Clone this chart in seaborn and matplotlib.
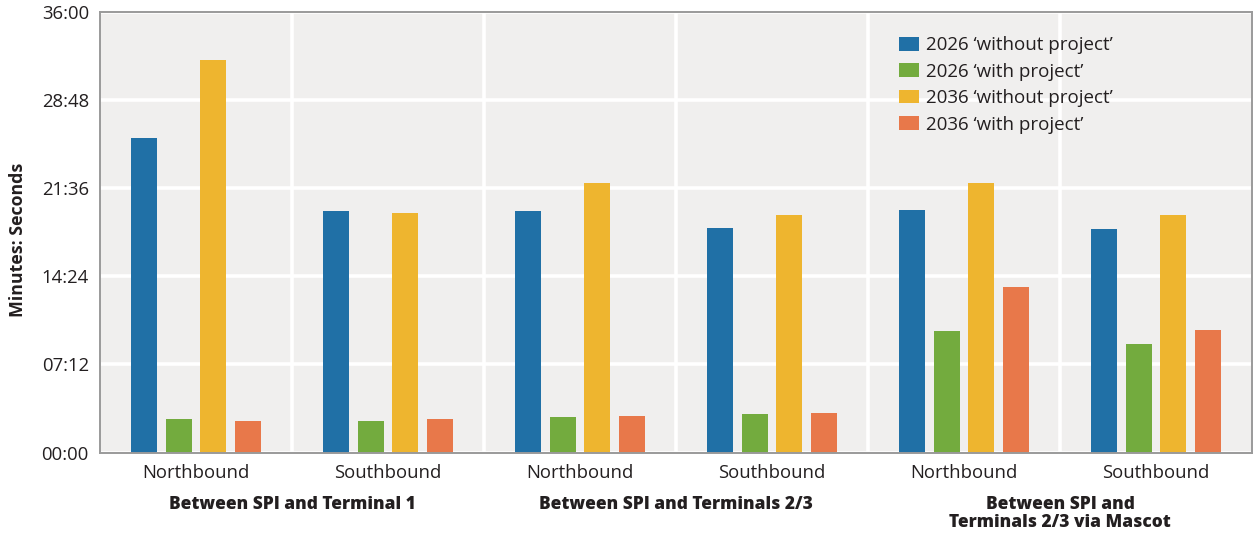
import matplotlib
matplotlib.use("Agg")
import matplotlib.pyplot as plt
from matplotlib.ticker import FixedLocator, FuncFormatter
import numpy as np
import pandas as pd
import seaborn as sns

# Journey times in minutes for each route / direction
routes = ["Between SPI and Terminal 1",
          "Between SPI and Terminals 2/3",
          "Between SPI and\nTerminals 2/3 via Mascot"]
directions = ["Northbound", "Southbound"]
series = ["2026 \u2018without project\u2019", "2026 \u2018with project\u2019",
          "2036 \u2018without project\u2019", "2036 \u2018with project\u2019"]

without_2026 = [25.72, 19.75, 19.75, 18.34, 19.80, 18.30]
with_2026 = [2.73, 2.57, 2.92, 3.14, 9.95, 8.89]
without_2036 = [32.07, 19.58, 22.00, 19.42, 22.05, 19.45]
with_2036 = [2.59, 2.75, 3.00, 3.19, 13.50, 10.03]

colors = ["#2070a6", "#73ab3e", "#eeb52f", "#e8784a"]

# Long-form table: one row per bar
cat_keys = [f"{r}|{d}" for r in routes for d in directions]
rows = []
for name, vals in zip(series, [without_2026, with_2026, without_2036, with_2036]):
    for key, v in zip(cat_keys, vals):
        rows.append({"category": key, "series": name, "minutes": v})
df = pd.DataFrame(rows)

sns.set_theme(style="white")
plt.rcParams["font.family"] = ["Open Sans", "DejaVu Sans"]

fig = plt.figure(figsize=(12.57, 5.35), dpi=100)
ax = fig.add_axes([0.0796, 0.1542, 0.9164, 0.8234])
ax.set_facecolor("#f0efee")

sns.barplot(data=df, x="category", y="minutes", hue="series", order=cat_keys,
            hue_order=series, palette=colors, saturation=1, width=0.72,
            gap=0.24, ax=ax, legend=True, linewidth=0, edgecolor="none")

# Axis limits and mm:ss ticks every 7:12
ax.set_xlim(-0.5, len(cat_keys) - 0.5)
ax.set_ylim(0, 36)
ax.yaxis.set_major_locator(FixedLocator(np.arange(0, 36.01, 7.2)))
ax.yaxis.set_major_formatter(FuncFormatter(
    lambda v, _: f"{int(round(v * 60)) // 60:02d}:{int(round(v * 60)) % 60:02d}"))

ax.set_xticks(range(len(cat_keys)))
ax.set_xticklabels([d for r in routes for d in directions])
ax.xaxis.set_minor_locator(FixedLocator(np.arange(0.5, len(cat_keys) - 1, 1)))

ax.grid(axis="y", which="major", color="white", linewidth=2.6)
ax.grid(axis="x", which="minor", color="white", linewidth=2.6)
ax.grid(axis="x", which="major", visible=False)
ax.set_axisbelow(True)

ax.tick_params(axis="both", which="both", length=0, labelsize=13.3,
               colors="#231f20")
ax.tick_params(axis="y", pad=8)
ax.tick_params(axis="x", pad=8)

for sp in ax.spines.values():
    sp.set_visible(True)
    sp.set_color("#9a9a9a")
    sp.set_linewidth(1.4)

ax.set_xlabel("")
ax.set_ylabel("Minutes: Seconds", fontsize=12.8, fontweight="bold",
              color="#231f20")
ax.yaxis.set_label_coords(-0.063, 0.482)

# Route labels under each pair of directions
for i, r in enumerate(routes):
    ax.annotate(r, xy=(2 * i + 0.5, 0), xycoords=("data", "axes fraction"),
                xytext=(0, -31), textcoords="offset points", ha="center",
                va="top", fontsize=12.4, fontweight=800, color="#231f20",
                linespacing=1.1)

leg = ax.legend(loc="upper left", bbox_to_anchor=(0.687, 0.962), frameon=False,
                fontsize=13.5, handlelength=1.07, handleheight=0.75,
                handletextpad=0.4, labelspacing=0.45, borderaxespad=0)
for t in leg.get_texts():
    t.set_color("#231f20")

fig.savefig("out.png", dpi=100, facecolor="white")
